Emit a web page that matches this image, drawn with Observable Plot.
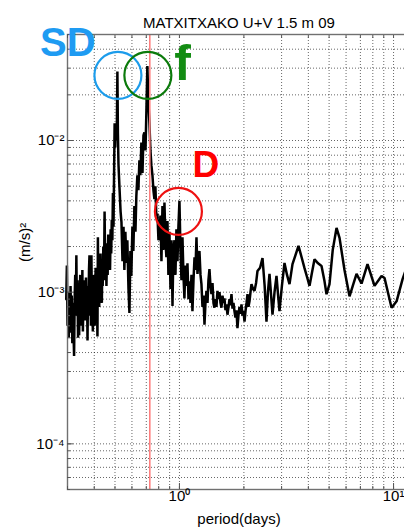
<!DOCTYPE html>
<html>
<head>
<meta charset="utf-8">
<script src="https://cdn.jsdelivr.net/npm/d3@7"></script>
<script src="https://cdn.jsdelivr.net/npm/@observablehq/plot@0.6"></script>
<style>
  html, body { margin: 0; padding: 0; background: #fff; overflow: hidden; }
  #chart svg { display: block; }
</style>
</head>
<body>
<div id="chart"></div>
<script>
// ---- data (period in days, power spectral density in (m/s)^2) ----
const periodDays = [
  0.296, 0.298, 0.300, 0.302, 0.304, 0.306, 0.308, 0.310, 0.312, 0.314,
  0.316, 0.318, 0.320, 0.322, 0.324, 0.326, 0.328, 0.330, 0.332, 0.334,
  0.336, 0.338, 0.340, 0.342, 0.344, 0.346, 0.348, 0.350, 0.352, 0.354,
  0.356, 0.358, 0.360, 0.362, 0.364, 0.366, 0.368, 0.370, 0.372, 0.374,
  0.376, 0.378, 0.380, 0.382, 0.384, 0.386, 0.388, 0.390, 0.392, 0.394,
  0.396, 0.398, 0.400, 0.402, 0.404, 0.406, 0.408, 0.410, 0.412, 0.414,
  0.416, 0.418, 0.420, 0.422, 0.424, 0.426, 0.428, 0.430, 0.432, 0.434,
  0.436, 0.438, 0.441, 0.444, 0.447, 0.450, 0.453, 0.456, 0.459, 0.462,
  0.465, 0.468, 0.471, 0.474, 0.477, 0.480, 0.483, 0.486, 0.489, 0.492,
  0.495, 0.498, 0.501, 0.504, 0.507, 0.510, 0.513, 0.516, 0.519, 0.525,
  0.531, 0.536, 0.542, 0.548, 0.553, 0.559, 0.565, 0.571, 0.578, 0.584,
  0.590, 0.596, 0.603, 0.609, 0.616, 0.623, 0.629, 0.636, 0.643, 0.650,
  0.657, 0.664, 0.672, 0.679, 0.686, 0.694, 0.701, 0.708, 0.716, 0.724,
  0.732, 0.740, 0.748, 0.756, 0.764, 0.772, 0.780, 0.789, 0.798, 0.807,
  0.815, 0.824, 0.833, 0.842, 0.851, 0.860, 0.869, 0.879, 0.888, 0.898,
  0.908, 0.918, 0.928, 0.937, 0.948, 0.958, 0.968, 0.979, 0.989, 1.000,
  1.011, 1.022, 1.033, 1.044, 1.055, 1.066, 1.078, 1.090, 1.102, 1.114,
  1.126, 1.138, 1.150, 1.163, 1.176, 1.188, 1.201, 1.214, 1.227, 1.240,
  1.254, 1.267, 1.281, 1.295, 1.309, 1.323, 1.337, 1.352, 1.366, 1.381,
  1.396, 1.411, 1.427, 1.442, 1.457, 1.473, 1.489, 1.505, 1.522, 1.538,
  1.555, 1.571, 1.589, 1.605, 1.623, 1.640, 1.658, 1.676, 1.695, 1.713,
  1.731, 1.750, 1.769, 1.788, 1.807, 1.826, 1.846, 1.866, 1.886, 1.907,
  1.928, 1.949, 1.970, 1.991, 2.013, 2.035, 2.057, 2.079, 2.101, 2.124,
  2.147, 2.170, 2.206, 2.242, 2.280, 2.315, 2.380, 2.443, 2.500, 2.550,
  2.590, 2.634, 2.680, 2.720, 2.780, 2.840, 2.890, 2.933, 3.010, 3.095,
  3.180, 3.266, 3.373, 3.480, 3.598, 3.720, 3.838, 3.950, 4.051, 4.160,
  4.274, 4.440, 4.609, 4.750, 4.863, 5.022, 5.200, 5.416, 5.594, 5.900,
  6.228, 6.450, 6.716, 7.087, 7.558, 8.152, 8.788, 9.077, 9.788, 10.33,
  11.02, 11.60
];
const psdValues = [
  9.0e-4, 1.5e-3, 6.0e-4, 1.0e-3, 5.0e-4, 8.0e-4, 5.4e-4, 1.1e-3, 6.5e-4, 9.5e-4,
  4.6e-4, 8.5e-4, 5.5e-4, 3.8e-4, 9.0e-4, 1.3e-3, 7.5e-4, 1.75e-3, 7.0e-4, 1.2e-3,
  5.0e-4, 1.0e-3, 5.2e-4, 9.0e-4, 1.3e-3, 6.0e-4, 1.1e-3, 7.0e-4, 1.4e-3, 5.5e-4,
  9.0e-4, 6.5e-4, 1.2e-3, 1.0e-3, 6.5e-4, 1.25e-3, 8.0e-4, 1.1e-3, 4.8e-4, 1.0e-3,
  7.0e-4, 1.4e-3, 1.75e-3, 8.0e-4, 1.2e-3, 6.0e-4, 1.75e-3, 7.0e-4, 1.1e-3, 5.5e-4,
  1.3e-3, 8.0e-4, 1.15e-3, 6.0e-4, 1.0e-3, 1.45e-3, 7.0e-4, 1.2e-3, 9.0e-4, 5.1e-4,
  2.3e-3, 1.0e-3, 1.5e-3, 8.0e-4, 1.3e-3, 9.5e-4, 1.8e-3, 1.0e-3, 1.6e-3, 8.5e-4,
  1.4e-3, 1.1e-3, 2.0e-3, 1.2e-3, 3.4e-3, 1.5e-3, 2.1e-3, 1.1e-3, 1.8e-3, 1.3e-3,
  2.4e-3, 1.5e-3, 2.1e-3, 1.4e-3, 2.6e-3, 1.8e-3, 3.0e-3, 2.2e-3, 4.5e-3, 2.7e-3,
  6.0e-3, 1.3e-2, 9.0e-3, 1.25e-2, 1.0e-2, 1.2e-2, 2.85e-2, 1.1e-2, 7.0e-3, 4.8e-3,
  3.4e-3, 2.9e-3, 1.6e-3, 2.7e-3, 1.4e-3, 2.5e-3, 1.56e-3, 2.2e-3, 1.05e-3, 7.3e-4,
  1.87e-3, 1.28e-3, 2.7e-3, 1.87e-3, 3.7e-3, 2.5e-3, 4.3e-3, 5.9e-3, 4.7e-3, 7.4e-3,
  5.9e-3, 9.7e-3, 6.1e-3, 1.08e-2, 1.13e-2, 8.6e-3, 1.58e-2, 3.1e-2, 1.84e-2, 1.3e-2,
  8.6e-3, 6.8e-3, 5.9e-3, 4.7e-3, 4.1e-3, 5.0e-3, 3.2e-3, 3.3e-3, 2.2e-3, 2.35e-3,
  3.2e-3, 1.6e-3, 3.7e-3, 1.9e-3, 3.9e-3, 2.2e-3, 1.7e-3, 2.95e-3, 1.3e-3, 2.5e-3,
  1.05e-3, 2.2e-3, 8.1e-4, 1.9e-3, 2.2e-3, 1.3e-3, 2.6e-3, 1.6e-3, 2.7e-3, 4.0e-3,
  1.9e-3, 1.2e-3, 2.3e-3, 1.3e-3, 9.1e-4, 1.5e-3, 1.1e-3, 1.55e-3, 9.0e-4, 1.18e-3,
  8.5e-4, 1.3e-3, 7.5e-4, 1.2e-3, 1.7e-3, 1.4e-3, 2.3e-3, 1.32e-3, 1.6e-3, 1.87e-3,
  1.3e-3, 1.13e-3, 8.0e-4, 9.5e-4, 6.1e-4, 8.5e-4, 1.02e-3, 8.5e-4, 1.2e-3, 1.42e-3,
  1.1e-3, 9.7e-4, 1.15e-3, 8.5e-4, 7.9e-4, 9.0e-4, 8.0e-4, 1.02e-3, 9.0e-4, 1.0e-3,
  8.5e-4, 7.9e-4, 9.5e-4, 8.5e-4, 9.1e-4, 7.6e-4, 8.3e-4, 7.1e-4, 8.0e-4, 9.0e-4,
  8.2e-4, 9.7e-4, 7.8e-4, 8.5e-4, 7.5e-4, 6.8e-4, 7.6e-4, 5.8e-4, 7.0e-4, 8.0e-4,
  7.2e-4, 8.3e-4, 7.0e-4, 7.5e-4, 6.4e-4, 7.5e-4, 8.5e-4, 9.7e-4, 8.0e-4, 8.7e-4,
  1.0e-3, 1.13e-3, 1.05e-3, 1.02e-3, 1.15e-3, 1.38e-3, 1.45e-3, 1.68e-3, 1.1e-3, 6.4e-4,
  1.0e-3, 1.32e-3, 9.5e-4, 7.1e-4, 1.0e-3, 1.28e-3, 9.5e-4, 7.5e-4, 1.1e-3, 1.56e-3,
  1.3e-3, 1.13e-3, 1.53e-3, 1.75e-3, 2.02e-3, 1.7e-3, 1.44e-3, 1.25e-3, 1.10e-3, 1.35e-3,
  1.65e-3, 1.55e-3, 1.49e-3, 1.2e-3, 9.7e-4, 1.13e-3, 1.9e-3, 2.65e-3, 2.28e-3, 1.4e-3,
  9.4e-4, 1.1e-3, 1.32e-3, 1.14e-3, 1.53e-3, 1.10e-3, 1.28e-3, 1.24e-3, 7.9e-4, 8.7e-4,
  1.22e-3, 1.5e-3
];

// inertial period (days) marked by the vertical line
const inertialPeriod = [0.727];

// axis ticks and labels
const xMajorTicks = [1, 10];
const xTickLabels = ["10\u2070", "10\u00B9"];
const xMinorTicks = [0.3, 0.4, 0.5, 0.6, 0.7, 0.8, 0.9, 1, 2, 3, 4, 5, 6, 7, 8, 9, 10];
const yMajorTicks = [1e-4, 1e-3, 1e-2];
const yTickLabels = ["10\u207B\u2074", "10\u207B\u00B3", "10\u207B\u00B2"];
const yMinorTicks = [5e-5, 6e-5, 7e-5, 8e-5, 9e-5,
  1e-4, 2e-4, 3e-4, 4e-4, 5e-4, 6e-4, 7e-4, 8e-4, 9e-4,
  1e-3, 2e-3, 3e-3, 4e-3, 5e-3, 6e-3, 7e-3, 8e-3, 9e-3,
  1e-2, 2e-2, 3e-2, 4e-2, 5e-2];

// annotations (labels and circled peaks)
const annotLabels = ["SD", "f", "D"];
const annotPeriod = [0.301, 1.033, 1.330];
const annotPsd = [0.0436, 0.0319, 0.00683];
const annotColors = ["#1E9BF2", "#138C13", "#FF0000"];
const annotSizes = [40, 50, 37];
const circlePeriod = [0.516, 0.712, 0.989];
const circlePsd = [0.0269, 0.0269, 0.00341];
const circleColors = ["#1C9CEB", "#0B7A0B", "#EE1111"];

const titleText = "MATXITXAKO U+V 1.5 m 09";
const xLabel = "period(days)";
const yLabel = "(m/s)\u00B2";

// ---- build ----
const spectrum = periodDays.map((p, i) => ({period: p, psd: psdValues[i]}));
const annots = annotLabels.map((t, i) => ({t, p: annotPeriod[i], v: annotPsd[i], c: annotColors[i], s: annotSizes[i]}));
const circles = circlePeriod.map((p, i) => ({p, v: circlePsd[i], c: circleColors[i]}));

const gridStyle = {stroke: "#000", strokeOpacity: 0.6, strokeDasharray: "1,2", strokeWidth: 1};
const font = "'Liberation Sans', Arial, Helvetica, sans-serif";

const chart = Plot.plot({
  width: 404,
  height: 532,
  marginLeft: 67,
  marginRight: -6,
  marginTop: 34,
  marginBottom: 43,
  x: {type: "log", domain: [0.3, 12]},
  y: {type: "log", domain: [5e-5, 0.05]},
  style: {fontFamily: font, fontSize: "15px", color: "#000", background: "#fff", overflow: "visible"},
  marks: [
    Plot.gridX(xMinorTicks, gridStyle),
    Plot.gridY(yMinorTicks, gridStyle),
    Plot.line(spectrum, {x: "period", y: "psd", stroke: "#000", strokeWidth: 2.5, strokeLinejoin: "miter"}),
    Plot.ruleX(inertialPeriod, {stroke: "#FF8080", strokeWidth: 1.6}),
    Plot.frame({stroke: "#707070", strokeWidth: 1.4}),
    // inward ticks
    Plot.axisX(xMinorTicks, {anchor: "bottom", tickSize: -3, tickFormat: () => "", label: null, stroke: "#555"}),
    Plot.axisX(xMajorTicks, {anchor: "bottom", tickSize: -6, tickFormat: () => "", label: null, stroke: "#555"}),
    Plot.axisX(xMinorTicks, {anchor: "top", tickSize: -3, tickFormat: () => "", label: null, stroke: "#555"}),
    Plot.axisY(yMinorTicks, {anchor: "left", tickSize: -3, tickFormat: () => "", label: null, stroke: "#555"}),
    Plot.axisY(yMajorTicks, {anchor: "left", tickSize: -6, tickFormat: () => "", label: null, stroke: "#555"}),
    // tick labels
    Plot.text(xMajorTicks, {x: d => d, frameAnchor: "bottom", lineAnchor: "top", dy: 1, text: (d, i) => xTickLabels[i], fontSize: 15, fill: "#000"}),
    Plot.text(yMajorTicks, {y: d => d, frameAnchor: "left", textAnchor: "end", dx: -3, text: (d, i) => yTickLabels[i], fontSize: 15, fill: "#000"}),
    // titles
    Plot.text([titleText], {frameAnchor: "top", dy: -17, text: d => d, fontSize: 15, fill: "#000"}),
    Plot.text([xLabel], {frameAnchor: "bottom", dy: 34, text: d => d, fontSize: 15, fill: "#000"}),
    Plot.text([yLabel], {frameAnchor: "left", dx: -42, rotate: -90, text: d => d, fontSize: 15, fill: "#000"}),
    // annotations
    Plot.dot(circles, {x: "p", y: "v", r: 23.5, stroke: "c", fill: "none", strokeWidth: 2.2}),
    Plot.text(annots, {x: "p", y: "v", text: "t", fill: "c", fontSize: "s", fontWeight: "bold",
      fontFamily: "'Liberation Sans', Arial, sans-serif", clip: false})
  ]
});
document.getElementById("chart").appendChild(chart);
</script>
</body>
</html>
